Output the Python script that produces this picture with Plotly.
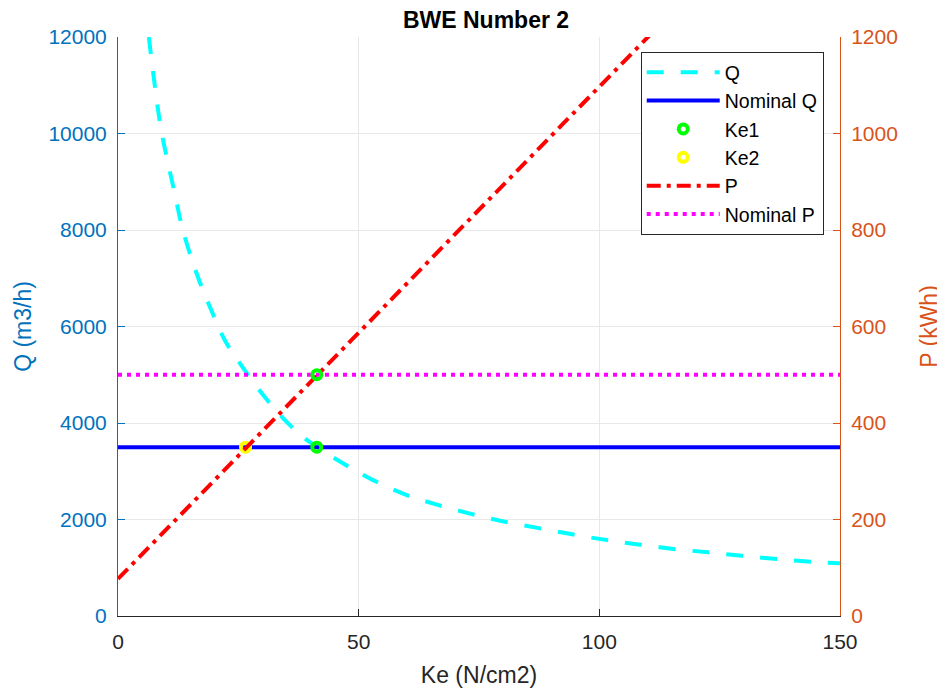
import plotly.graph_objects as go

# ---- data ----
q_ke = [6.4, 7.6, 9.0, 11.8, 13.5, 16.6, 19.4, 22.2, 25.3, 30.2, 35.3, 39.5, 46.8, 53.0, 60.0,
        66.6, 73.5, 80.4, 87.7, 94.6, 101.5, 108.1, 115.4, 122.6, 129.6, 136.9, 144.1, 150.0]
q_val = [12000, 11030, 10060, 8750, 7990, 7025, 6335, 5714, 5240, 4576, 3996, 3630, 3161, 2816, 2505,
         2298, 2112, 1952, 1816, 1690, 1573, 1484, 1390, 1319, 1249, 1180, 1124, 1091]

p_ke = [0, 50, 100, 150]
p_val = [77, 587, 1097, 1607]

ke_range = [0, 150]
nominal_q = [3500, 3500]
nominal_p = [500, 500]

ke1 = 41.3
ke2 = 26.5

x_ticks = [0, 50, 100, 150]
q_ticks = [0, 2000, 4000, 6000, 8000, 10000, 12000]
p_ticks = [0, 200, 400, 600, 800, 1000, 1200]

BLUE_AX = "#0072BD"
ORANGE_AX = "#D95319"
FONT = "Liberation Sans, Arial, Helvetica, sans-serif"

marker_ke1 = dict(symbol="circle-open", size=9, color="#00FF00", line=dict(width=4))
marker_ke2 = dict(symbol="circle-open", size=9, color="#FFFF00", line=dict(width=4))

fig = go.Figure()

fig.add_trace(go.Scatter(x=q_ke, y=q_val, name="Q", mode="lines", line_shape="spline",
                         line=dict(color="#00FFFF", width=4, dash="17px,17px"), yaxis="y"))
fig.add_trace(go.Scatter(x=ke_range, y=nominal_q, name="Nominal Q", mode="lines",
                         line=dict(color="#0000FF", width=4), yaxis="y"))
fig.add_trace(go.Scatter(x=[ke1], y=[nominal_q[0]], name="Ke1", mode="markers", legendgroup="ke1",
                         marker=marker_ke1, yaxis="y"))
fig.add_trace(go.Scatter(x=[ke2], y=[nominal_q[0]], name="Ke2", mode="markers",
                         marker=marker_ke2, yaxis="y"))
fig.add_trace(go.Scatter(x=p_ke, y=p_val, name="P", mode="lines",
                         line=dict(color="#FF0000", width=4, dash="14px,6px,4px,6px"), yaxis="y2"))
fig.add_trace(go.Scatter(x=ke_range, y=nominal_p, name="Nominal P", mode="lines",
                         line=dict(color="#FF00FF", width=4, dash="4px,5px"), yaxis="y2"))
fig.add_trace(go.Scatter(x=[ke1], y=[nominal_p[0]], name="Ke1", mode="markers", legendgroup="ke1",
                         showlegend=False, marker=marker_ke1, yaxis="y2"))

fig.update_layout(
    width=945, height=690,
    margin=dict(l=110, r=113, t=29, b=82, autoexpand=False),
    paper_bgcolor="white", plot_bgcolor="white",
    font=dict(family=FONT, size=21, color="#262626"),
    title=dict(text="<b>BWE Number 2</b>", x=478 / 945, xanchor="center", xref="container",
               y=1 - 4 / 690, yanchor="top",
               font=dict(family=FONT, size=23, color="#000000")),
    showlegend=True,
    legend=dict(x=0.724, y=0.974, xanchor="left", yanchor="top",
                bgcolor="white", bordercolor="#262626", borderwidth=1,
                font=dict(family=FONT, size=19.5, color="#000000"),
                tracegroupgap=0, itemwidth=73),
    xaxis=dict(range=[0, 150], tickvals=x_ticks, ticks="inside", ticklen=7,
               tickcolor="#262626", showline=True, linecolor="#262626", linewidth=1,
               showgrid=True, gridcolor="#E8E8E8", gridwidth=1, zeroline=False, automargin=False,
               tickfont=dict(size=21, color="#262626"), ticklabelstandoff=7,
               title=dict(text="Ke (N/cm2)", font=dict(size=23, color="#262626"), standoff=14)),
    yaxis=dict(range=[0, 12000], tickvals=q_ticks, tickformat="d", ticks="inside", ticklen=7,
               tickcolor=BLUE_AX, showline=True, linecolor=BLUE_AX, linewidth=1,
               showgrid=True, gridcolor="#E8E8E8", gridwidth=1, zeroline=False, automargin=False,
               tickfont=dict(size=21, color=BLUE_AX), ticklabelstandoff=6,
               title=dict(text="Q (m3/h)", font=dict(size=23, color=BLUE_AX), standoff=10)),
    yaxis2=dict(range=[0, 1200], tickvals=p_ticks, tickformat="d", ticks="inside", ticklen=7,
                tickcolor=ORANGE_AX, showline=True, linecolor=ORANGE_AX, linewidth=1,
                overlaying="y", side="right", showgrid=False, zeroline=False, automargin=False,
                tickfont=dict(size=21, color=ORANGE_AX), ticklabelstandoff=6,
                title=dict(text="P (kWh)", font=dict(size=23, color=ORANGE_AX), standoff=23)),
)

fig.write_html("out.html")
